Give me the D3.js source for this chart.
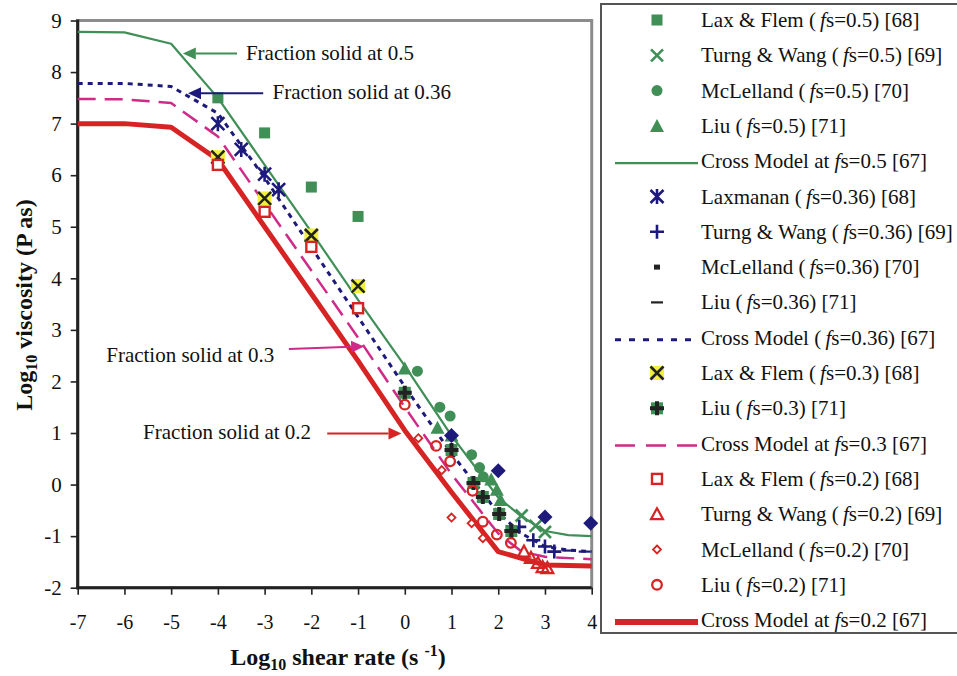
<!DOCTYPE html>
<html>
<head>
<meta charset="utf-8">
<script src="https://cdn.jsdelivr.net/npm/d3@7"></script>
<style>
body{margin:0;background:#fff;}
svg{display:block;font-family:"Liberation Serif","Times New Roman",serif;}
</style>
</head>
<body>
<div id="chart"></div>
<script>
//=====================data=========================
const xTicks = [-7,-6,-5,-4,-3,-2,-1,0,1,2,3,4];
const yTicks = [-2,-1,0,1,2,3,4,5,6,7,8,9];

// cross model curves: [log10 shear rate, log10 viscosity]
const cross05  = [[-7,8.78],[-6,8.77],[-5,8.55],[-4,7.5],[-3,6.2],[-2,4.9],[-1,3.58],[0,2.3],[1,0.95],[2,-0.25],[2.5,-0.62],[3,-0.9],[3.5,-0.98],[4,-1.0]];
const cross036 = [[-7,7.78],[-6,7.78],[-5,7.72],[-4,7.2],[-3,5.95],[-2,4.6],[-1,3.25],[0,1.9],[1,0.6],[2,-0.55],[2.5,-0.95],[3,-1.2],[3.5,-1.27],[4,-1.3]];
const cross03  = [[-7,7.48],[-6,7.47],[-5,7.4],[-4,6.75],[-3,5.45],[-2,4.15],[-1,2.85],[0,1.5],[1,0.2],[2,-0.95],[2.5,-1.3],[3,-1.4],[4,-1.45]];
const cross02  = [[-7,7.0],[-6,7.0],[-5,6.93],[-4,6.3],[-3,5.0],[-2,3.7],[-1,2.4],[0,1.05],[1,-0.15],[2,-1.3],[3,-1.56],[4,-1.58]];

// measured points
const laxFlem05   = [[-4,7.5],[-3,6.82],[-2,5.77],[-1,5.2]];
const turngWang05 = [[2.5,-0.6],[2.8,-0.8],[3.0,-0.92]];
const mcLelland05 = [[0.27,2.2],[0.75,1.5],[0.97,1.33],[1.43,0.58],[1.6,0.33],[1.68,0.15]];
const liu05       = [[0,2.25],[0.7,1.1],[1.0,0.95],[1.85,0.1],[1.97,-0.1],[2.05,-0.3]];
const laxmanan036 = [[-4,7.0],[-3.5,6.5],[-3,6.02],[-2.7,5.72]];
const turngWang036= [[2.45,-0.82],[2.75,-1.08],[3.0,-1.2],[3.2,-1.3]];
const mcLelland036= [[1.0,0.95],[2.0,0.27],[3.0,-0.63],[3.98,-0.75]];
const liu036      = [[3.5,-1.28],[3.85,-1.3]];
const laxFlem03   = [[-4,6.35],[-3,5.55],[-2,4.83],[-1,3.85]];
const liu03       = [[0,1.78],[1.0,0.67],[1.47,0.03],[1.67,-0.24],[2.02,-0.57],[2.28,-0.9]];
const laxFlem02   = [[-4,6.2],[-3,5.29],[-2,4.61],[-1,3.42]];
const turngWang02 = [[2.55,-1.3],[2.7,-1.42],[2.85,-1.52],[2.95,-1.6],[3.05,-1.62]];
const mcLelland02 = [[0.29,0.9],[0.79,0.28],[1.0,-0.64],[1.43,-0.75],[1.67,-1.04]];
const liu02       = [[0,1.55],[0.67,0.75],[0.97,0.45],[1.45,-0.12],[1.67,-0.72],[1.97,-0.97],[2.27,-1.13]];

const legendLabels = [
    'Lax & Flem (fs=0.5) [68]',
    'Turng & Wang (fs=0.5) [69]',
    'McLelland (fs=0.5) [70]',
    'Liu (fs=0.5) [71]',
    'Cross Model at fs=0.5 [67]',
    'Laxmanan (fs=0.36) [68]',
    'Turng & Wang (fs=0.36) [69]',
    'McLelland (fs=0.36) [70]',
    'Liu (fs=0.36) [71]',
    'Cross Model (fs=0.36) [67]',
    'Lax & Flem (fs=0.3) [68]',
    'Liu (fs=0.3) [71]',
    'Cross Model at fs=0.3 [67]',
    'Lax & Flem (fs=0.2) [68]',
    'Turng & Wang (fs=0.2) [69]',
    'McLelland (fs=0.2) [70]',
    'Liu (fs=0.2) [71]',
    'Cross Model at fs=0.2 [67]'
];

const annoText = ['Fraction solid at 0.5','Fraction solid at 0.36','Fraction solid at 0.3','Fraction solid at 0.2'];

//=====================styles=========================
const GREEN = '#3f8f57', NAVY = '#1d1a7c', MAG = '#cf2a88', RED = '#d62424', YEL = '#f2f03c';

const pointSeries = [
    {data: laxFlem05, type:'square', color:GREEN},
    {data: turngWang05, type:'x', color:GREEN},
    {data: mcLelland05, type:'circle', color:GREEN},
    {data: liu05, type:'triangle', color:GREEN},
    {data: laxmanan036, type:'asterisk', color:NAVY},
    {data: turngWang036, type:'plus', color:NAVY},
    {data: mcLelland036, type:'diamond', color:NAVY},
    {data: liu036, type:'dash', color:NAVY},
    {data: laxFlem03, type:'yx', color:'#222'},
    {data: liu03, type:'gplus', color:'#222'},
    {data: laxFlem02, type:'hsquare', color:RED},
    {data: turngWang02, type:'htri', color:RED},
    {data: mcLelland02, type:'hdiamond', color:RED},
    {data: liu02, type:'hcircle', color:RED}
];
const lineSeries = [
    {data: cross05, color:GREEN, width:2.2, dash:null},
    {data: cross036, color:NAVY, width:3, dash:'5,5'},
    {data: cross03, color:MAG, width:2.5, dash:'18,9'},
    {data: cross02, color:RED, width:5, dash:null}
];
const legendGlyph = ['square','x','circle','triangle',{line:0},'asterisk','plus','dot','dash',{line:1},'yx','gplus',{line:2},'hsquare','htri','hdiamond','hcircle',{line:3}];
const legendColor = [GREEN,GREEN,GREEN,GREEN,GREEN,NAVY,NAVY,'#222','#222',NAVY,'#222','#222',MAG,RED,RED,RED,RED,RED];

//=====================plot size=========================
var width = 957, height = 676;
var plot = {left:77.7, right:591.7, top:20.5, bottom:587.7};

var svg = d3.select('#chart').append('svg')
    .attr('width', width).attr('height', height);

var x = d3.scaleLinear().domain([-7,4]).range([plot.left, plot.right]);
var y = d3.scaleLinear().domain([-2,9]).range([plot.bottom, plot.top]);

// frame
svg.append('rect')
    .attr('x', plot.left).attr('y', plot.top)
    .attr('width', plot.right-plot.left).attr('height', plot.bottom-plot.top)
    .attr('fill','none').attr('stroke','#8c8c8c').attr('stroke-width',3);

//===========axes==================
var yAxis = svg.append('g').attr('transform','translate('+plot.left+',0)')
    .call(d3.axisLeft(y).tickValues(yTicks).tickSize(7).tickPadding(9).tickFormat(d3.format('d')));
var xAxis = svg.append('g').attr('transform','translate(0,'+plot.bottom+')')
    .call(d3.axisBottom(x).tickValues(xTicks).tickSize(7).tickPadding(20).tickFormat(d3.format('d')));
[xAxis, yAxis].forEach(function(a){
    a.select('.domain').remove();
    a.selectAll('line').attr('stroke','#222').attr('stroke-width',1.6);
    a.selectAll('text').attr('fill','#111')
        .style('font-family','"Liberation Serif","Times New Roman",serif');
});
yAxis.selectAll('text').style('font-size','21px').text(function(d){ return d<0 ? '-'+Math.abs(d) : d; });
xAxis.selectAll('text').style('font-size','20px').text(function(d){ return d<0 ? '-'+Math.abs(d) : d; });

svg.append('line').attr('x1',plot.left).attr('x2',plot.left)
    .attr('y1',plot.top-1).attr('y2',plot.bottom+1.5)
    .attr('stroke','#222').attr('stroke-width',3);
svg.append('line').attr('x1',plot.left-1.5).attr('x2',plot.right)
    .attr('y1',plot.bottom).attr('y2',plot.bottom)
    .attr('stroke','#222').attr('stroke-width',3);

// axis titles
var xt = svg.append('text').attr('x',338).attr('y',665).attr('text-anchor','middle')
    .style('font-size','24px').style('font-weight','bold').attr('fill','#111');
xt.append('tspan').text('Log');
xt.append('tspan').text('10').style('font-size','16px').attr('dy',5);
xt.append('tspan').text(' shear rate (s ').attr('dy',-5);
xt.append('tspan').text('-1').style('font-size','16px').attr('dy',-9);
xt.append('tspan').text(')').attr('dy',9);

var yt = svg.append('text').attr('transform','translate(32,305) rotate(-90)').attr('text-anchor','middle')
    .style('font-size','24px').style('font-weight','bold').attr('fill','#111');
yt.append('tspan').text('Log');
yt.append('tspan').text('10').style('font-size','16px').attr('dy',5);
yt.append('tspan').text(' viscosity (P as)').attr('dy',-5);

//===========lines==================
var line = d3.line().x(function(d){ return x(d[0]); }).y(function(d){ return y(d[1]); });
svg.append('g').selectAll('path')
    .data(lineSeries).enter().append('path')
    .attr('d', function(d){ return line(d.data); })
    .attr('fill','none')
    .attr('stroke', function(d){ return d.color; })
    .attr('stroke-width', function(d){ return d.width; })
    .attr('stroke-dasharray', function(d){ return d.dash; })
    .attr('stroke-linejoin','round');

//===========markers==================
function drawMarker(g, type, cx, cy, color){
    var s;
    switch(type){
    case 'square':
        g.append('rect').attr('x',cx-5.5).attr('y',cy-5.5).attr('width',11).attr('height',11).attr('fill',color);
        break;
    case 'x':
        s = 6;
        g.append('path').attr('d','M'+(cx-s)+','+(cy-s)+'L'+(cx+s)+','+(cy+s)+'M'+(cx-s)+','+(cy+s)+'L'+(cx+s)+','+(cy-s))
            .attr('stroke',color).attr('stroke-width',2.6);
        break;
    case 'circle':
        g.append('circle').attr('cx',cx).attr('cy',cy).attr('r',5.5).attr('fill',color);
        break;
    case 'triangle':
        g.append('path').attr('d','M'+cx+','+(cy-7)+'L'+(cx+7)+','+(cy+6)+'L'+(cx-7)+','+(cy+6)+'Z').attr('fill',color);
        break;
    case 'asterisk':
        s = 6.5;
        g.append('path').attr('d','M'+(cx-s)+','+(cy-s)+'L'+(cx+s)+','+(cy+s)+'M'+(cx-s)+','+(cy+s)+'L'+(cx+s)+','+(cy-s)+'M'+cx+','+(cy-s-1)+'L'+cx+','+(cy+s+1))
            .attr('stroke',color).attr('stroke-width',2.6);
        break;
    case 'plus':
        s = 7;
        g.append('path').attr('d','M'+(cx-s)+','+cy+'L'+(cx+s)+','+cy+'M'+cx+','+(cy-s)+'L'+cx+','+(cy+s))
            .attr('stroke',color).attr('stroke-width',2.6);
        break;
    case 'diamond':
        g.append('path').attr('d','M'+cx+','+(cy-7.5)+'L'+(cx+7.5)+','+cy+'L'+cx+','+(cy+7.5)+'L'+(cx-7.5)+','+cy+'Z').attr('fill',color);
        break;
    case 'dash':
        g.append('line').attr('x1',cx-6).attr('x2',cx+6).attr('y1',cy).attr('y2',cy)
            .attr('stroke',color).attr('stroke-width',2.2);
        break;
    case 'dot':
        g.append('rect').attr('x',cx-3).attr('y',cy-2.5).attr('width',6).attr('height',5).attr('fill',color);
        break;
    case 'yx':
        g.append('rect').attr('x',cx-7).attr('y',cy-7).attr('width',14).attr('height',14).attr('fill',YEL);
        g.append('path').attr('d','M'+(cx-6.5)+','+(cy-6.5)+'L'+(cx+6.5)+','+(cy+6.5)+'M'+(cx-6.5)+','+(cy+6.5)+'L'+(cx+6.5)+','+(cy-6.5))
            .attr('stroke',color).attr('stroke-width',2.6);
        break;
    case 'gplus':
        g.append('rect').attr('x',cx-6).attr('y',cy-6).attr('width',12).attr('height',12).attr('fill',GREEN);
        g.append('path').attr('d','M'+(cx-7)+','+cy+'L'+(cx+7)+','+cy+'M'+cx+','+(cy-7)+'L'+cx+','+(cy+7))
            .attr('stroke',color).attr('stroke-width',4);
        break;
    case 'hsquare':
        g.append('rect').attr('x',cx-5).attr('y',cy-5).attr('width',10).attr('height',10)
            .attr('fill','#fff').attr('stroke',color).attr('stroke-width',2.4);
        break;
    case 'htri':
        g.append('path').attr('d','M'+cx+','+(cy-6)+'L'+(cx+6)+','+(cy+5)+'L'+(cx-6)+','+(cy+5)+'Z')
            .attr('fill','none').attr('stroke',color).attr('stroke-width',2.2);
        break;
    case 'hdiamond':
        g.append('path').attr('d','M'+cx+','+(cy-4)+'L'+(cx+4)+','+cy+'L'+cx+','+(cy+4)+'L'+(cx-4)+','+cy+'Z')
            .attr('fill','#fff').attr('stroke',color).attr('stroke-width',1.8);
        break;
    case 'hcircle':
        g.append('circle').attr('cx',cx).attr('cy',cy).attr('r',4.8)
            .attr('fill','none').attr('stroke',color).attr('stroke-width',2.3);
        break;
    }
}

var marks = svg.append('g');
pointSeries.forEach(function(s){
    var g = marks.append('g');
    s.data.forEach(function(p){ drawMarker(g, s.type, x(p[0]), y(p[1]), s.color); });
});

//===========annotations==================
const annoPos = [
    {tx:-3.40, ty:8.23, from:[-3.59,8.36], to:[-4.75,8.36], color:GREEN},
    {tx:-2.83, ty:7.47, from:[-3.03,7.59], to:[-4.64,7.59], color:NAVY},
    {tx:-6.39, ty:2.38, from:[-2.48,2.63], to:[-0.87,2.68], color:MAG},
    {tx:-5.60, ty:0.88, from:[-1.66,0.99], to:[-0.07,0.99], color:RED}
];
annoPos.forEach(function(a, i){
    svg.append('text').attr('x',x(a.tx)).attr('y',y(a.ty))
        .style('font-size','21px').attr('fill','#111').text(annoText[i]);
    var x1 = x(a.from[0]), y1 = y(a.from[1]), x2 = x(a.to[0]), y2 = y(a.to[1]);
    var ang = Math.atan2(y2-y1, x2-x1), L = 13, W = 6;
    var bx = x2 - L*Math.cos(ang), by = y2 - L*Math.sin(ang);
    svg.append('line').attr('x1',x1).attr('y1',y1).attr('x2',bx).attr('y2',by)
        .attr('stroke',a.color).attr('stroke-width',2);
    svg.append('path').attr('d','M'+x2+','+y2+'L'+(bx-W*Math.sin(ang))+','+(by+W*Math.cos(ang))+'L'+(bx+W*Math.sin(ang))+','+(by-W*Math.cos(ang))+'Z')
        .attr('fill',a.color);
});

//===========legend==================
var leg = svg.append('g');
leg.append('rect').attr('x',601).attr('y',4).attr('width',400).attr('height',629)
    .attr('fill','#fff').attr('stroke','#555').attr('stroke-width',2);
legendLabels.forEach(function(lab, i){
    var cy = 20 + 35.3*i;
    var gl = legendGlyph[i];
    if (typeof gl === 'object'){
        var ls = lineSeries[gl.line];
        leg.append('line').attr('x1',615).attr('x2',698).attr('y1',cy+2).attr('y2',cy+2)
            .attr('stroke',ls.color).attr('stroke-width',ls.width+(gl.line==3?1:0))
            .attr('stroke-dasharray', gl.line==1 ? '6,8' : (gl.line==2 ? '20,11' : null));
    } else {
        drawMarker(leg.append('g'), gl, 657, cy, legendColor[i]);
    }
    var parts = lab.split('fs');
    var t = leg.append('text').attr('x',701).attr('y',cy+7).style('font-size','21px').attr('fill','#111');
    t.append('tspan').text(parts[0].replace('(','(\u2009'));
    t.append('tspan').text('f').style('font-style','italic');
    t.append('tspan').text('s'+parts[1]);
});
</script>
</body>
</html>
